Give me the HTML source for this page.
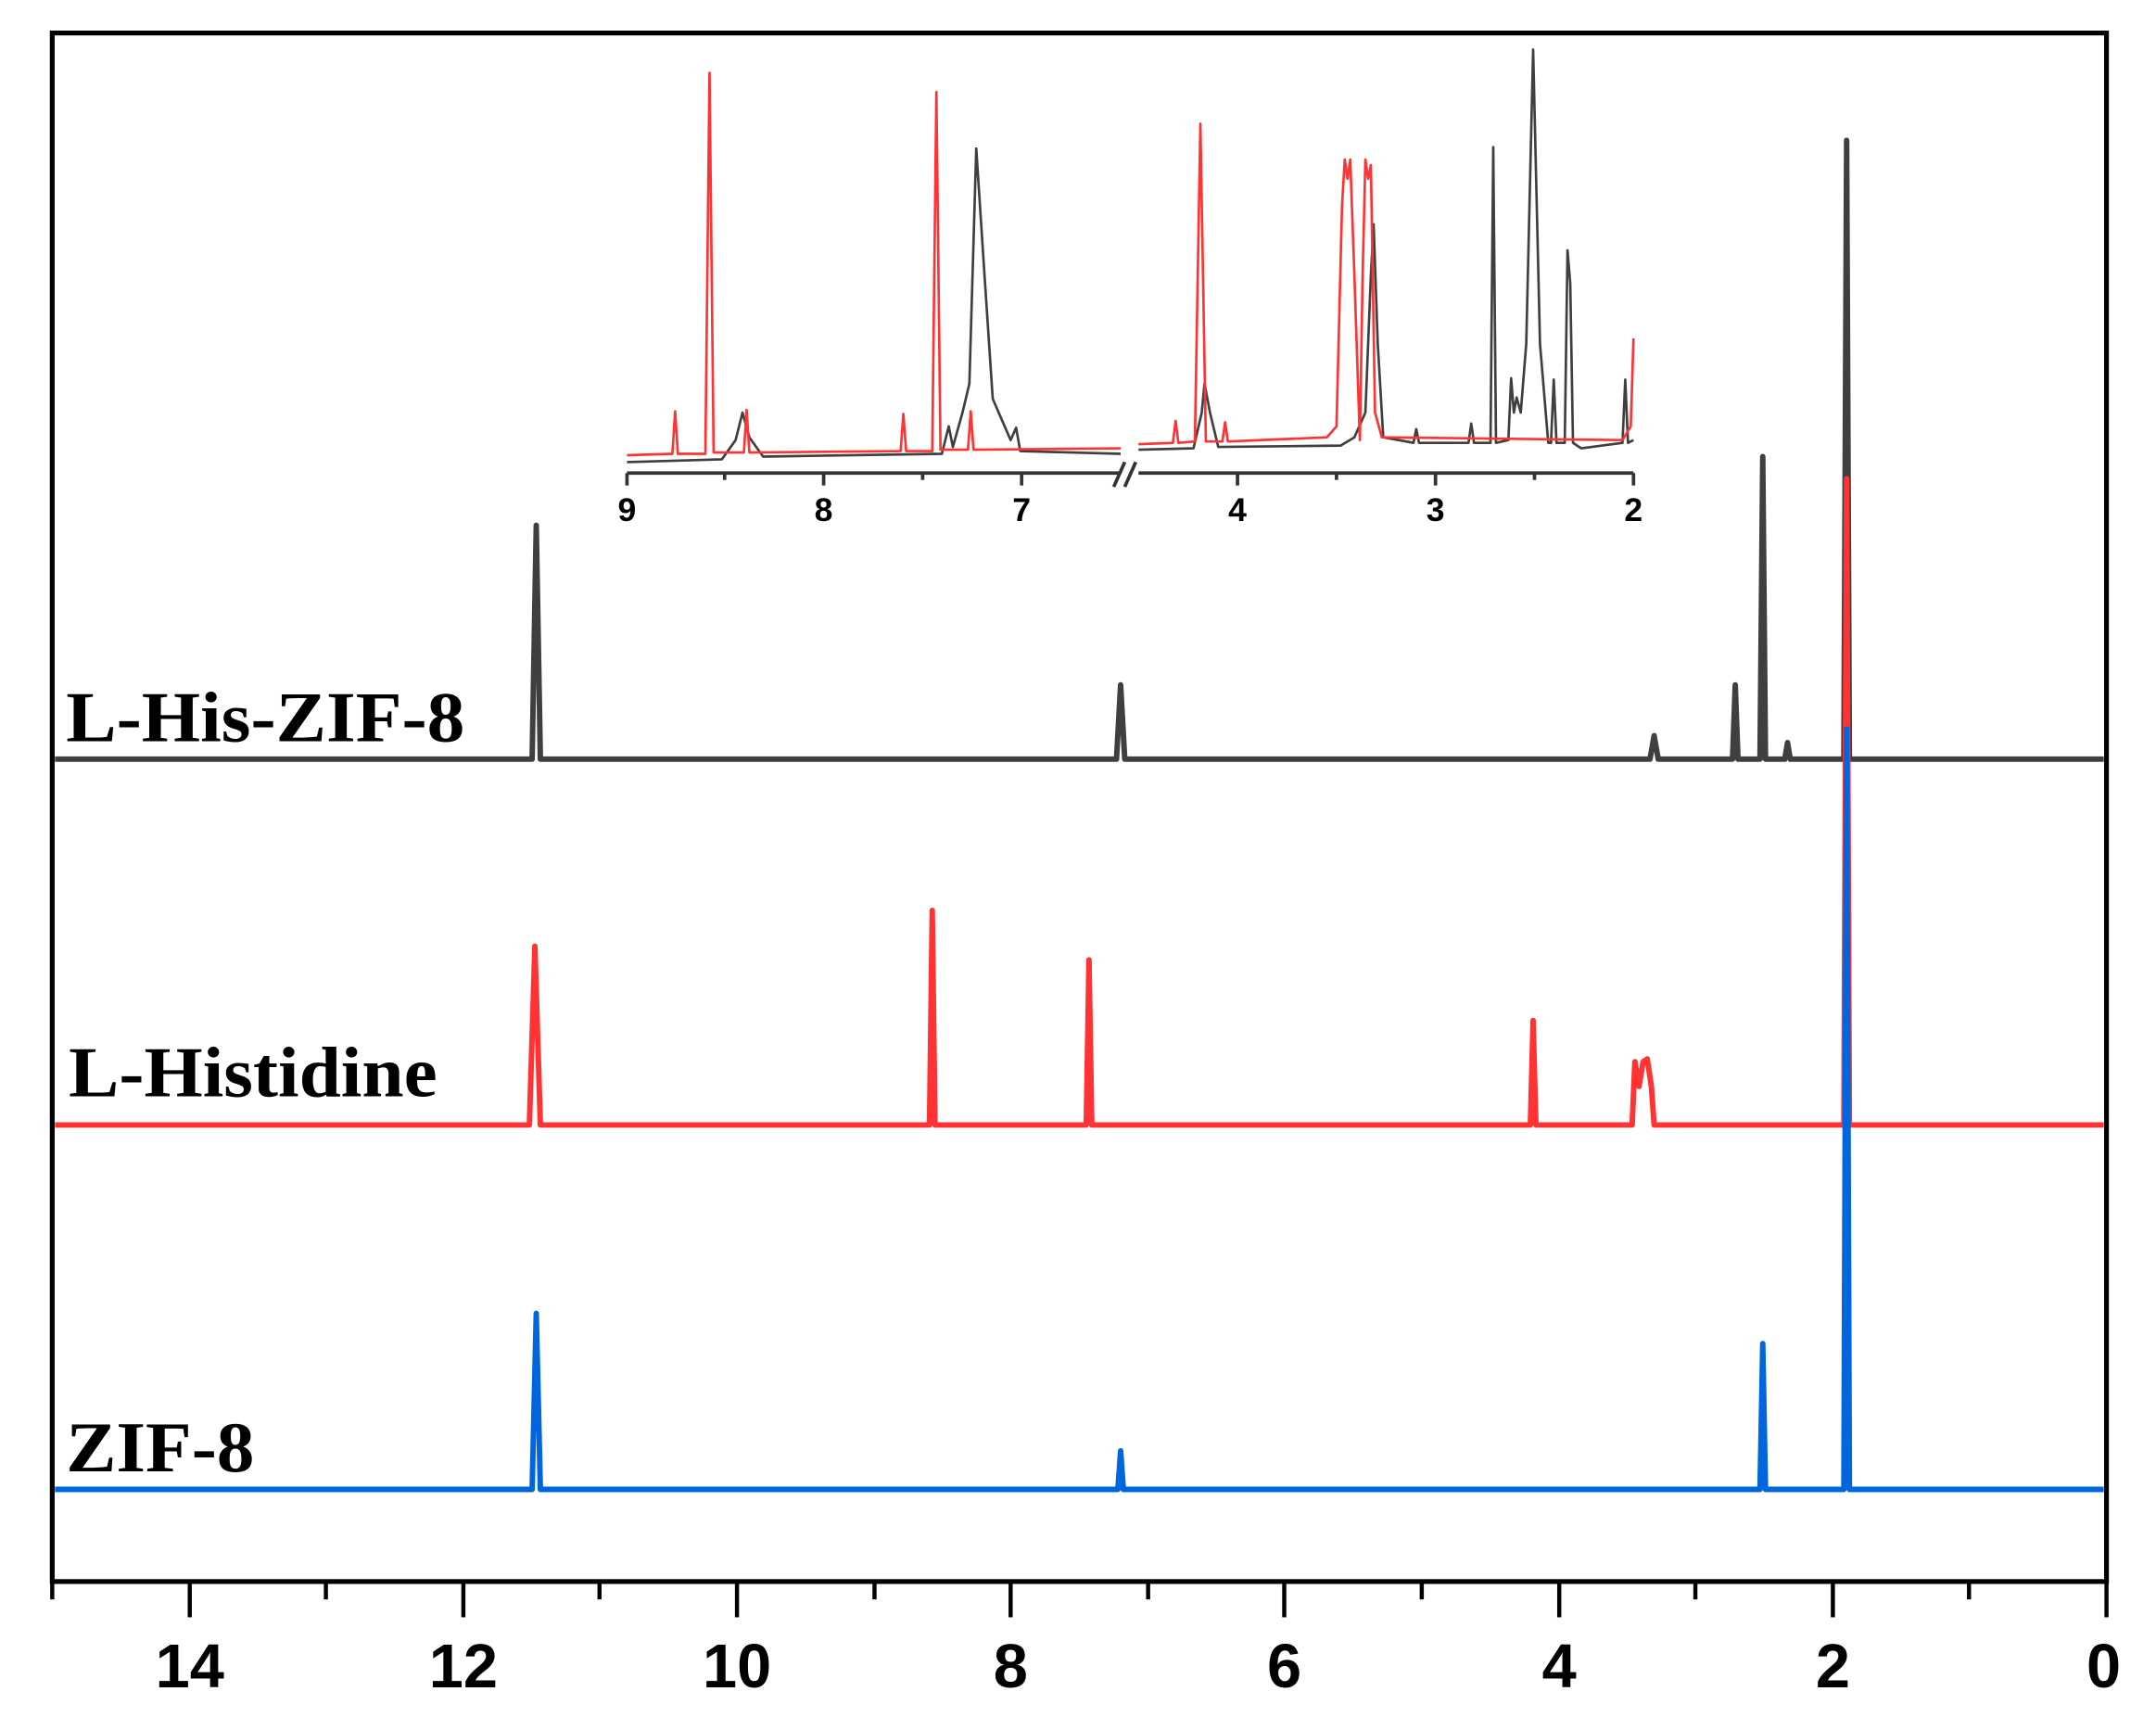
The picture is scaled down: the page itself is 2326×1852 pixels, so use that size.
<!DOCTYPE html>
<html><head><meta charset="utf-8"><style>
html,body{margin:0;padding:0;background:#fff}
svg{display:block}
</style></head><body>
<svg width="2326" height="1852" viewBox="0 0 1568 1248.5" preserveAspectRatio="none" xmlns="http://www.w3.org/2000/svg">
<rect x="0" y="0" width="1568" height="1248.5" fill="#fff"/>
<rect x="38" y="24" width="1494" height="1126" fill="none" stroke="#000" stroke-width="3.5"/>
<g stroke="#000" stroke-width="3">
<line x1="38" y1="1150" x2="38" y2="1163"/>
<line x1="138" y1="1150" x2="138" y2="1176"/>
<line x1="237" y1="1150" x2="237" y2="1163"/>
<line x1="337" y1="1150" x2="337" y2="1176"/>
<line x1="436" y1="1150" x2="436" y2="1163"/>
<line x1="536" y1="1150" x2="536" y2="1176"/>
<line x1="636" y1="1150" x2="636" y2="1163"/>
<line x1="735" y1="1150" x2="735" y2="1176"/>
<line x1="835" y1="1150" x2="835" y2="1163"/>
<line x1="934" y1="1150" x2="934" y2="1176"/>
<line x1="1034" y1="1150" x2="1034" y2="1163"/>
<line x1="1134" y1="1150" x2="1134" y2="1176"/>
<line x1="1233" y1="1150" x2="1233" y2="1163"/>
<line x1="1333" y1="1150" x2="1333" y2="1176"/>
<line x1="1432" y1="1150" x2="1432" y2="1163"/>
<line x1="1532" y1="1150" x2="1532" y2="1176"/>
</g>
<g font-family="Liberation Sans, sans-serif" font-weight="bold" font-size="45" text-anchor="middle" fill="#000">
<text x="138" y="1227">14</text>
<text x="337" y="1227">12</text>
<text x="536" y="1227">10</text>
<text x="735" y="1227">8</text>
<text x="934" y="1227">6</text>
<text x="1134" y="1227">4</text>
<text x="1333" y="1227">2</text>
<text x="1530" y="1227">0</text>
</g>
<g fill="none" stroke-width="4" stroke-linejoin="round">
<path stroke="#3f3f3f" d="M40 552 H387 L390 382 L393 552 H812 L815 498 L818 552 H1200 L1203 535 L1206 552 H1260 L1262 498 L1264 552 H1280 L1282 332 L1284 552 H1298 L1300 540 L1302 552 H1341 L1343 102 L1345 552 H1530"/>
<path stroke="#ff3333" d="M40 818 H385 L389 688 L393 818 H676 L678 662 L680 818 H790 L792 698 L794 818 H1113 L1115 742 L1117 818 H1187 L1189 772 L1192 790 L1195 772 L1198 770 L1201 790 L1203 818 H1341 L1343 348 L1345 818 H1530"/>
<path stroke="#0066dd" d="M40 1083 H387 L390 955 L393 1083 H813 L815 1055 L817 1083 H1280 L1282 977 L1284 1083 H1341 L1343 530 L1345 1083 H1530"/>
</g>
<g font-family="Liberation Serif, serif" font-weight="bold" font-size="52" fill="#000">
<text x="48" y="539" textLength="290" lengthAdjust="spacingAndGlyphs">L-His-ZIF-8</text>
<text x="50" y="797" textLength="268" lengthAdjust="spacingAndGlyphs">L-Histidine</text>
<text x="48" y="1070" textLength="137" lengthAdjust="spacingAndGlyphs">ZIF-8</text>
</g>
<g fill="none" stroke-width="1.8" stroke-linejoin="round">
<path stroke="#3f3f3f" d="M456 336 L525 334 L535 320 L540 300 L545 318 L555 332 L685 330 L690 310 L693 325 L700 300 L705 279 L710 108 L716 200 L722 290 L735 320 L739 311 L742 328 L815 330"/>
<path stroke="#ff3333" d="M456 331 L489 330 L491 299 L493 330 L513 330 L516 53 L519 329 L541 329 L543 298 L545 329 L655 328 L657 301 L659 328 L678 328 L681 67 L684 327 L704 327 L706 299 L708 327 L815 326"/>
<path stroke="#3f3f3f" d="M828 327 L868 326 L874 300 L876 279 L880 300 L886 325 L975 324 L985 318 L993 300 L997 200 L999 163 L1002 250 L1006 318 L1028 322 L1030 312 L1032 322 L1068 322 L1070 308 L1072 322 L1084 322 L1086 107 L1088 322 L1097 320 L1099 275 L1101 300 L1103 289 L1106 300 L1110 250 L1115 36 L1120 250 L1126 322 L1128 322 L1130 276 L1132 322 L1138 322 L1140 182 L1142 206 L1144 322 L1150 326 L1180 322 L1182 276 L1184 322 L1188 320"/>
<path stroke="#ff3333" d="M828 323 L853 322 L855 306 L857 322 L869 321 L873 90 L877 321 L889 321 L891 307 L893 321 L965 318 L972 310 L976 150 L978 116 L980 130 L982 116 L985 200 L989 320 L991 200 L993 116 L995 130 L997 120 L1000 300 L1005 318 L1180 320 L1186 310 L1188 246"/>
</g>
<g stroke="#333" stroke-width="2.5" fill="none">
<line x1="456" y1="344" x2="815" y2="344"/>
<line x1="828" y1="344" x2="1188" y2="344"/>
<line x1="456" y1="344" x2="456" y2="353"/>
<line x1="527" y1="344" x2="527" y2="349"/>
<line x1="599" y1="344" x2="599" y2="353"/>
<line x1="671" y1="344" x2="671" y2="349"/>
<line x1="743" y1="344" x2="743" y2="353"/>
<line x1="900" y1="344" x2="900" y2="353"/>
<line x1="972" y1="344" x2="972" y2="349"/>
<line x1="1044" y1="344" x2="1044" y2="353"/>
<line x1="1116" y1="344" x2="1116" y2="349"/>
<line x1="1188" y1="344" x2="1188" y2="353"/>
<line x1="810" y1="354" x2="818" y2="336"/>
<line x1="818" y1="354" x2="826" y2="336"/>
</g>
<g font-family="Liberation Sans, sans-serif" font-weight="bold" font-size="24" text-anchor="middle" fill="#000">
<text x="456" y="379">9</text>
<text x="599" y="379">8</text>
<text x="743" y="379">7</text>
<text x="900" y="379">4</text>
<text x="1044" y="379">3</text>
<text x="1188" y="379">2</text>
</g>
</svg>
</body></html>
